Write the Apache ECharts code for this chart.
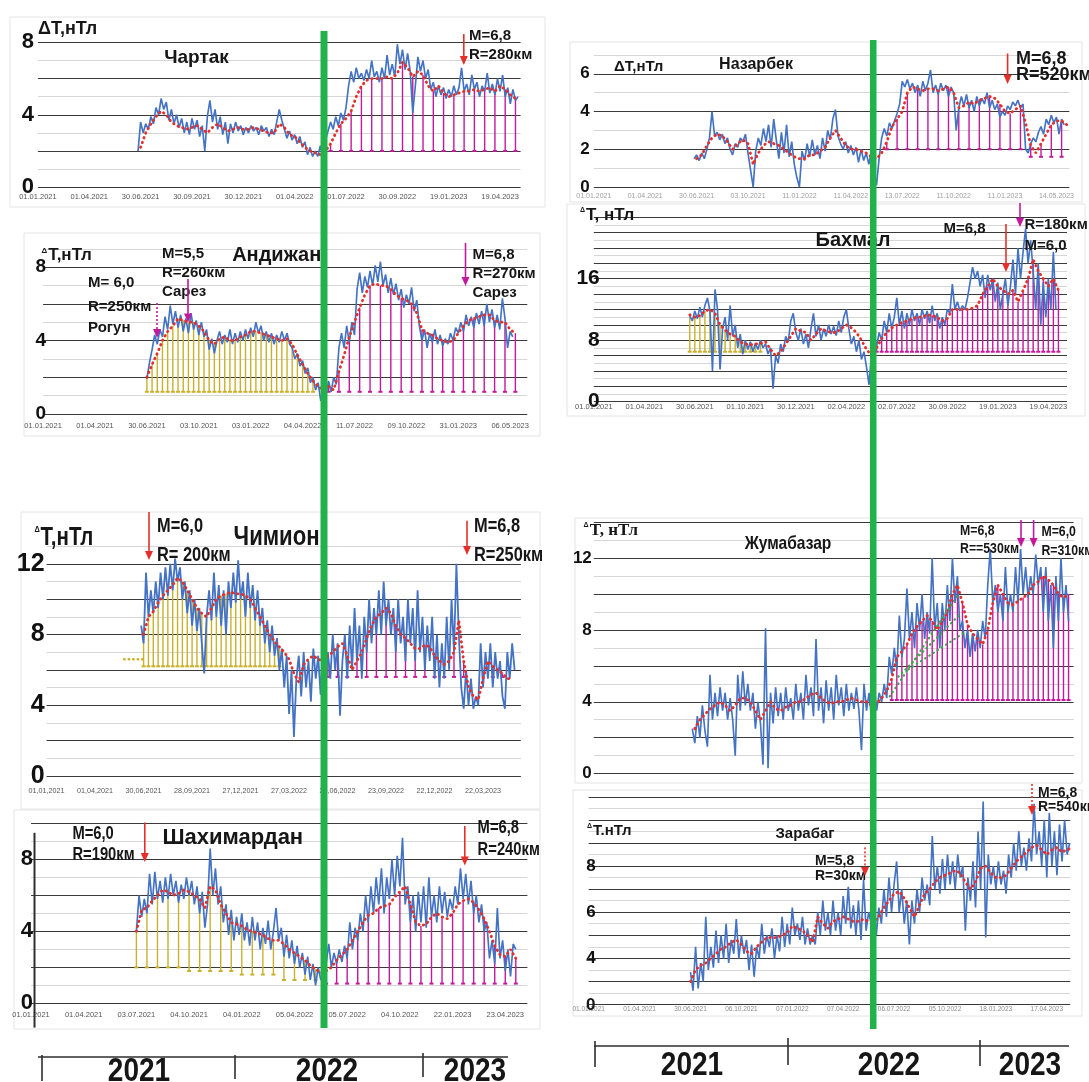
<!DOCTYPE html>
<html>
<head>
<meta charset="utf-8">
<script src="https://cdn.jsdelivr.net/npm/echarts@6/dist/echarts.min.js"></script>
<style>
html,body{margin:0;padding:0;background:#fff;}
#chart{width:1089px;height:1082px;}
</style>
</head>
<body>
<div id="chart"></div>
<script>
// ---------- station data: ΔT, nT (x unit = one date-label step) ----------
const chartakTicks = ['01.01.2021','01.04.2021','30.06.2021','30.09.2021','30.12.2021','01.04.2022','01.07.2022','30.09.2022','19.01.2023','19.04.2023'];
const chartakYLabels = [0, 4, 8];
const chartakBlue = [2.0,3.6,3.0,3.5,3.2,3.9,3.5,4.4,4.0,4.9,
4.3,4.7,3.7,4.3,3.5,4.0,3.3,3.8,3.0,3.6,
2.9,3.8,3.2,3.7,2.8,3.4,2.0,3.9,4.8,3.6,
4.3,3.2,3.9,2.9,3.6,2.4,3.5,3.0,3.6,3.1,
3.4,2.9,3.3,3.0,3.4,3.1,3.3,2.9,3.4,3.1,
3.3,2.8,3.2,2.9,3.6,4.3,3.7,3.2,2.7,3.1,
2.6,2.9,2.4,2.8,2.2,2.5,1.8,2.2,1.7,2.0,
1.7,2.3,1.6,2.6,3.1,3.6,3.2,3.9,3.4,4.1,
3.7,4.4,5.6,6.4,5.8,6.6,6.0,6.3,5.9,6.5,
6.0,7.0,6.1,6.4,5.8,6.6,6.0,7.3,6.2,6.8,
6.1,7.9,6.8,7.6,6.5,7.4,6.4,4.1,5.6,7.2,
6.4,7.0,6.0,6.5,5.4,5.8,5.0,5.6,5.1,5.5,
4.9,5.4,5.0,5.6,5.1,5.5,6.6,5.3,5.7,5.1,
6.2,5.4,5.8,5.0,5.6,5.3,6.3,5.2,5.7,5.1,
6.0,5.3,6.2,5.0,5.5,4.6,5.4,4.8,5.0];
const chartakRed = [2.2,3.0,3.5,3.9,4.2,4.0,3.6,3.4,3.3,3.2,
3.3,3.4,3.2,3.0,3.3,3.5,3.3,3.1,3.2,3.3,
3.2,3.2,3.3,3.2,3.1,3.0,3.0,3.5,3.3,2.9,
2.8,2.5,2.2,2.0,1.9,1.8,2.0,2.4,3.0,3.5,
3.8,4.2,5.0,5.6,5.9,6.0,6.0,6.0,6.1,6.0,
6.3,6.9,6.6,6.1,6.4,6.2,5.6,5.3,5.6,5.2,
5.0,5.1,5.2,5.3,5.3,5.4,5.3,5.4,5.5,5.3,
5.6,5.4,5.1,4.9];

const nazarbekTicks = ['01.01.2021','01.04.2021','30.06.2021','03.10.2021','11.01.2022','11.04.2022','13.07.2022','11.10.2022','11.01.2023','14.05.2023'];
const nazarbekYLabels = [0, 2, 4, 6];
const nazarbekBlue = [1.5,1.7,1.4,1.8,1.5,2.0,2.6,4.0,2.7,2.9,
2.5,2.8,2.3,2.6,2.0,1.7,2.3,2.1,2.6,2.4,
2.8,1.8,0.9,0.0,1.9,2.6,2.2,3.1,2.4,3.3,
2.1,3.6,2.5,1.5,2.9,1.8,3.3,1.6,2.4,1.2,
0.5,0.0,1.9,1.4,2.3,1.6,2.5,1.7,2.2,1.5,
2.6,1.9,3.0,2.5,3.6,4.1,2.7,2.3,2.0,2.4,
1.8,2.2,1.7,2.1,1.3,2.0,1.4,1.8,1.2,1.9,
0.8,0.1,1.5,2.6,3.1,2.7,3.4,3.1,3.5,3.9,
4.4,5.6,5.3,5.7,5.2,5.5,5.0,5.4,4.8,5.6,
5.1,5.5,6.2,5.0,5.4,4.9,5.5,5.1,5.4,4.8,
5.3,5.0,3.0,4.2,4.8,4.3,4.9,4.2,4.6,4.0,
4.8,4.3,4.7,4.4,5.0,4.2,4.6,4.1,4.4,3.7,
4.0,3.8,4.3,4.1,4.5,4.3,4.6,4.2,4.4,2.0,
1.8,2.3,2.6,2.4,2.9,3.2,2.8,3.6,3.3,3.8,
3.4,3.7,2.8,3.6,3.3];
const nazarbekRed = [1.5,1.7,2.2,2.6,2.8,2.7,2.4,2.0,2.3,2.5,
2.3,1.2,1.8,2.2,2.4,2.3,2.2,2.0,1.8,1.6,
1.5,1.5,1.7,1.7,1.9,2.1,2.6,3.0,2.6,2.2,
2.0,2.0,1.9,1.8,1.6,1.5,1.8,2.4,3.2,3.6,
4.0,5.0,5.3,5.2,5.1,5.2,5.2,5.1,5.2,5.3,
5.0,4.2,4.3,4.5,4.4,4.6,4.7,4.8,4.7,4.4,
4.0,3.9,4.1,4.3,3.4,2.2,1.8,2.3,2.8,3.3,
3.5,3.5,3.3];

const andijanTicks = ['01.01.2021','01.04.2021','30.06.2021','03.10.2021','03.01.2022','04.04.2022','11.07.2022','09.10.2022','31.01.2023','06.05.2023'];
const andijanYLabels = [0, 4, 8];
const andijanBlue = [1.9,2.8,3.5,4.3,3.8,4.6,4.2,5.3,4.6,5.9,
4.9,5.6,4.7,5.4,4.5,5.2,4.4,5.5,4.6,5.1,
4.3,5.0,4.2,4.6,3.5,4.1,3.3,4.0,4.5,3.8,
4.3,3.9,4.6,3.8,4.4,3.9,4.5,4.0,4.6,4.1,
4.7,4.2,5.0,4.4,4.8,4.0,4.5,3.9,4.4,3.8,
4.3,3.9,4.5,4.0,4.4,3.8,3.6,3.0,3.3,2.6,
2.9,2.2,2.5,1.7,2.0,1.3,1.7,0.7,1.4,1.0,
1.8,1.2,2.0,1.6,3.6,4.4,3.6,4.8,3.9,5.0,
4.3,6.8,7.7,6.6,7.5,6.9,7.8,7.0,8.1,7.2,
8.3,7.0,7.6,6.6,7.4,6.5,7.1,6.2,6.8,5.8,
6.5,6.0,6.9,5.6,6.2,4.8,4.0,4.6,3.6,4.4,
3.9,4.6,3.8,4.3,3.7,4.1,3.8,4.4,4.0,4.7,
4.4,5.0,4.5,5.4,4.8,5.3,4.7,5.5,4.9,5.6,
4.8,6.0,5.0,5.7,4.7,5.4,4.6,6.3,5.2,3.6,
4.5,4.2];
const andijanRed = [2.0,2.7,3.3,4.0,4.5,4.8,5.2,5.1,5.0,5.0,
4.8,4.5,4.0,3.8,4.1,4.2,4.0,4.0,4.2,4.3,
4.5,4.5,4.4,4.3,4.2,4.1,4.0,4.1,3.8,3.2,
2.7,2.2,1.8,1.5,1.3,1.5,1.3,2.3,3.2,4.2,
5.0,5.8,6.5,7.0,7.1,7.0,7.0,6.8,6.5,6.3,
6.2,6.0,5.5,4.6,4.4,4.3,4.1,4.0,3.9,4.0,
4.4,4.8,5.1,5.2,5.3,5.4,5.4,5.1,5.0,5.0,
4.6,4.4];

const bakhmalTicks = ['01.01.2021','01.04.2021','30.06.2021','01.10.2021','30.12.2021','02.04.2022','02.07.2022','30.09.2022','19.01.2023','19.04.2023'];
const bakhmalYLabels = [0, 8, 16];
const bakhmalBlue = [11.2,10.5,11.8,10.8,12.3,11.0,12.5,13.5,11.8,4.0,
14.6,12.0,4.2,9.5,11.0,8.0,12.5,8.5,10.0,7.0,
8.8,6.2,8.0,6.8,7.8,6.5,7.6,6.8,8.0,7.0,
7.5,6.2,7.0,1.7,6.0,5.0,7.5,6.5,8.5,7.8,
10.5,11.5,9.0,8.0,9.5,7.5,8.8,7.0,9.5,11.5,
8.5,10.0,8.0,9.5,8.5,10.0,8.8,9.8,8.6,10.5,
9.0,11.0,12.0,9.5,7.5,8.5,6.5,8.0,5.5,6.5,
4.5,2.2,6.5,8.5,7.2,9.0,8.0,10.5,9.0,11.5,
9.5,11.0,13.5,10.0,11.8,9.5,11.5,10.0,12.0,10.5,
11.5,10.0,12.0,10.8,11.8,10.2,12.5,10.5,11.5,9.5,
11.0,10.0,12.0,11.5,15.3,12.0,13.0,11.8,12.5,12.0,
13.5,15.5,17.5,16.0,17.0,15.0,16.5,13.5,16.5,14.5,
16.0,13.0,15.5,12.0,14.0,16.0,12.5,15.0,18.5,14.0,
20.0,16.0,19.5,22.5,18.0,21.0,17.0,12.0,18.0,10.0,
15.5,11.0,16.0,12.0,19.5,12.0];
const bakhmalRed = [11.3,11.0,11.2,11.8,12.0,11.5,10.0,9.3,8.8,8.5,
7.8,7.5,7.4,7.5,7.6,7.8,6.8,6.0,6.5,7.5,
8.5,9.5,9.2,9.0,8.0,8.8,9.5,9.2,9.0,9.0,
9.5,10.0,9.6,9.0,8.0,6.8,6.0,7.0,8.2,9.0,
9.6,10.0,10.3,10.5,10.8,11.0,11.0,11.3,11.2,11.0,
10.5,10.8,12.0,12.0,12.0,12.0,12.2,12.5,14.0,15.0,
16.0,15.0,14.5,14.0,14.5,13.0,14.5,16.0,18.5,17.0,
16.0,15.0,16.0,14.5];

const chimionTicks = ['01,01,2021','01,04,2021','30,06,2021','28,09,2021','27,12,2021','27,03,2022','26,06,2022','23,09,2022','22,12,2022','22,03,2023'];
const chimionYLabels = [0, 4, 8, 12];
const chimionBlue = [8.5,7.5,11.5,9.0,10.5,9.2,11.0,9.5,11.5,10.0,
11.8,10.2,12.0,10.5,12.3,11.0,11.8,10.0,11.0,9.2,
10.5,8.5,10.0,8.2,9.5,7.5,5.8,9.0,10.5,8.8,
11.5,9.0,10.8,8.5,10.5,8.0,11.0,9.5,11.5,9.8,
12.2,10.0,11.0,9.0,11.5,9.5,10.8,8.8,10.5,8.5,
9.5,7.5,8.8,7.0,8.5,6.8,7.8,6.0,7.2,5.0,
6.8,3.5,6.0,2.2,5.5,6.8,4.5,7.0,5.0,6.5,
4.2,7.2,5.5,6.8,4.6,7.5,5.8,7.0,5.5,8.0,
6.0,7.5,3.4,6.5,8.0,5.5,8.5,6.0,9.5,6.5,
8.5,5.5,9.0,7.0,10.0,7.5,9.5,8.0,10.5,8.0,
11.0,8.5,10.0,8.0,9.5,7.0,10.0,7.5,9.0,6.5,
10.0,7.5,9.5,6.5,10.5,7.0,9.0,6.0,8.5,6.5,
9.0,5.5,8.0,5.0,7.5,5.5,9.0,6.0,10.0,7.0,
12.0,8.0,5.0,3.8,6.0,4.0,5.5,3.8,4.5,4.0,
7.5,5.0,7.0,5.5,7.5,5.0,7.0,5.5,6.5,4.5,
3.8,7.0,5.5,7.5,6.0];
const chimionRed = [8.0,9.0,9.3,9.8,10.2,10.5,10.8,11.2,11.0,10.5,
10.0,9.5,9.2,9.0,9.5,10.0,10.2,10.3,10.4,10.3,
10.3,10.2,10.0,9.5,9.0,8.5,8.0,7.6,7.3,7.0,
6.6,5.8,5.3,6.3,6.6,6.8,6.6,6.5,6.8,7.0,
7.3,7.5,6.8,6.0,6.5,7.0,7.8,8.5,9.0,9.2,
9.5,9.2,8.5,8.0,7.8,7.5,7.2,7.2,7.4,7.3,
6.8,6.5,6.3,6.5,7.0,8.8,6.5,5.0,4.5,4.3,
5.5,6.5,6.2,6.0,5.8,5.5,5.5];
const chimionLead = [[1.6, 6.6], [2.0, 6.6]];

const jumaYLabels = [0, 4, 8, 12];
const jumaBlue = [2.5,1.7,3.2,2.0,3.8,2.4,1.5,5.5,3.0,4.5,
3.2,4.8,3.5,4.5,3.0,4.2,3.0,1.0,5.5,3.5,
5.7,3.8,5.0,3.5,4.5,2.5,4.0,2.8,0.5,8.1,
0.3,4.5,2.8,4.8,3.2,4.5,3.0,4.8,3.5,4.2,
3.0,5.0,3.5,4.5,3.0,5.5,3.8,4.8,3.2,7.5,
3.5,4.8,2.8,5.2,3.5,4.8,3.0,5.5,3.8,4.8,
3.2,5.0,3.5,4.5,3.6,4.8,3.5,1.3,5.0,3.5,
4.5,3.0,5.0,3.5,4.5,4.0,5.0,4.2,6.5,5.5,
7.0,5.8,8.8,6.5,7.5,10.3,7.5,9.0,7.0,9.5,
8.0,10.0,7.5,9.0,7.8,12.0,8.0,9.5,7.0,9.5,
8.0,10.5,8.5,12.0,9.5,11.0,8.0,8.5,7.0,8.0,
6.5,7.8,6.8,8.0,7.0,8.5,7.5,10.5,12.5,9.5,
10.5,9.0,10.0,8.5,11.5,9.0,10.0,9.0,11.5,9.5,
12.5,10.0,11.5,9.8,11.0,10.0,12.2,10.5,11.5,9.0,
11.5,8.5,10.5,7.0,11.0,8.5,12.0,9.0,10.5,8.5];
const jumaRed = [2.5,3.0,3.3,3.6,3.8,4.0,3.8,3.5,3.8,4.2,
4.2,4.0,3.5,3.0,3.5,4.0,3.6,3.5,3.7,3.8,
4.0,4.0,4.2,4.4,4.5,4.2,4.0,3.9,4.0,4.0,
4.1,4.2,4.1,4.0,4.0,3.8,3.9,4.2,4.6,5.3,
6.5,6.8,7.2,7.8,8.2,8.5,8.8,8.5,8.0,8.5,
9.0,10.0,10.5,9.5,8.3,7.8,7.5,7.2,8.0,9.5,
10.5,10.0,9.5,9.4,9.6,9.8,10.0,10.5,10.7,11.0,
10.8,10.5,10.0,9.8,10.0];
const jumaTrendA = [[5.86, 4.3], [7.2, 9.9]];
const jumaTrendB = [[6.03, 5.4], [7.26, 8.9]];
const jumaTrendC = [[6.23, 5.8], [7.36, 7.9]];

const shakhTicks = ['01.01.2021','01.04.2021','03.07.2021','04.10.2021','04.01.2022','05.04.2022','05.07.2022','04.10.2022','22.01.2023','23.04.2023'];
const shakhYLabels = [0, 4, 8];
const shakhBlue = [4.0,6.0,4.8,5.8,5.0,7.2,5.5,7.3,5.8,6.8,
5.6,7.0,5.8,7.2,6.0,6.8,5.6,6.6,5.8,7.0,
6.0,6.8,5.5,6.5,5.0,6.2,4.2,5.5,8.6,6.0,
7.5,5.5,6.5,4.5,5.5,3.8,5.2,3.5,4.8,3.8,
5.0,3.5,4.5,3.2,4.8,3.5,4.5,3.0,4.2,3.3,
4.6,3.0,4.0,5.3,3.5,4.2,2.6,3.8,2.5,3.5,
2.2,3.2,2.0,2.8,1.6,2.6,1.3,2.2,1.0,2.0,
1.3,1.8,2.2,3.3,2.0,2.8,2.2,3.0,2.3,3.2,
2.5,4.5,3.0,4.2,3.5,5.0,4.0,6.0,4.5,6.5,
5.0,7.0,5.5,7.5,5.0,7.0,5.8,8.0,6.0,8.2,
6.5,9.2,5.5,6.5,4.5,6.0,4.0,6.2,4.5,6.5,
4.2,7.0,4.8,6.0,4.5,6.5,5.0,6.2,4.8,5.8,
5.2,6.5,5.5,7.5,5.8,7.2,5.5,6.8,5.0,6.0,
4.5,5.5,4.0,4.5,2.5,3.5,2.2,5.3,2.5,3.5,
1.8,3.0,1.5,3.3,3.0];
const shakhRed = [4.0,5.2,5.3,5.7,6.0,6.3,6.2,6.0,6.1,6.3,
6.2,6.0,5.8,5.3,6.5,6.3,5.5,5.0,4.5,4.4,
4.3,4.1,4.0,3.9,3.8,3.6,3.5,3.5,3.3,3.0,
2.8,2.6,2.4,2.1,1.9,1.7,1.8,2.0,2.4,2.7,
3.0,3.5,4.0,4.5,4.9,5.0,5.3,5.4,5.5,5.9,
6.2,6.5,5.5,4.5,4.3,4.4,4.8,5.0,4.8,4.7,
5.0,5.5,5.7,5.8,5.6,5.2,4.7,4.0,3.2,2.7,
2.6,3.0,2.5];

const zarTicks = ['01.01.2021','01.04.2021','30.06.2021','06.10.2021','07.01.2022','07.04.2022','06.07.2022','05.10.2022','18.01.2023','17.04.2023'];
const zarYLabels = [4, 6, 8];
const zarBlue = [3.4,2.6,4.5,2.7,3.8,3.0,5.8,3.5,4.5,3.6,
5.2,3.8,5.0,4.0,5.5,3.8,4.8,4.2,5.7,4.0,
5.0,4.2,4.8,3.5,4.6,3.2,4.5,4.0,5.5,4.2,
5.0,4.5,5.3,4.0,5.0,4.3,5.8,4.5,5.5,4.6,
6.2,5.0,5.5,4.8,5.8,4.6,5.3,4.6,5.0,4.6,
6.0,5.0,6.5,5.2,6.0,5.0,6.5,5.2,6.0,5.0,
6.7,5.5,7.1,5.3,6.3,5.0,6.5,4.8,7.4,5.2,
6.0,5.5,6.5,5.0,6.2,5.5,7.0,5.8,7.5,6.0,
7.2,8.2,6.0,7.0,5.5,6.5,4.6,6.5,5.5,7.0,
6.0,7.5,6.5,7.2,6.3,9.3,7.0,8.0,6.8,8.3,
7.0,8.5,7.2,8.2,7.0,8.5,7.5,8.0,5.2,7.5,
6.5,8.2,6.2,9.5,7.0,10.8,4.9,8.5,7.2,8.0,
7.0,8.2,7.2,7.8,6.8,8.5,7.5,9.0,7.8,9.5,
8.0,8.8,7.8,9.2,8.2,10.7,8.5,9.5,8.0,10.0,
7.5,10.3,8.0,9.5,7.6,9.8,8.2,10.0,8.5,9.0];
const zarRed = [3.0,3.5,3.7,3.8,4.0,4.2,4.4,4.5,4.7,4.8,
4.6,4.3,4.2,4.5,4.7,4.9,4.9,4.9,5.0,5.1,
5.4,5.3,5.2,5.0,4.7,5.8,5.5,5.3,5.6,5.7,
5.8,5.7,5.6,5.6,5.7,5.6,5.6,5.8,6.2,6.5,
6.8,6.9,6.6,6.2,5.8,6.3,6.8,7.0,7.3,7.5,
7.6,7.7,7.8,7.7,7.3,7.0,7.3,7.9,8.0,7.7,
7.5,7.5,7.6,7.9,8.2,8.4,8.6,8.8,8.9,8.7,
8.5,8.7,8.8,8.6,8.7,8.8];

const yearLabels = ['2021', '2022', '2023'];

// ---------- styling ----------
const BLUE = '#4472c4', RED = '#e5302a', MAG = '#c4199c', YEL = '#c9b12c', GREEN = '#22b24c';
const SANS = '"Liberation Sans", Arial, sans-serif';
const SERIF = '"Liberation Serif", "DejaVu Serif", serif';
const NARROW_SCALE = 0.82;   // horizontal squeeze standing in for a condensed face
const BLUE_STEP = 0.05, RED_STEP = 0.1;

const panels = [
  { blue: chartakBlue, blueStart: 1.95, red: chartakRed, redStart: 2.0, ticks: chartakTicks, yLabels: chartakYLabels,
    grid: { left: 37.9, top: 42.4, width: 482.7, height: 144.8 }, xMax: 9.4, yMin: 0, yMax: 8, yStep: 1,
    yLab: { size: 22, margin: 4 }, xLab: { size: 7.5, margin: 6, color: '#555' },
    stems: [{ from: 5.7, to: 9.3, every: 2, base: 2, color: MAG }] },
  { blue: nazarbekBlue, blueStart: 1.95, red: nazarbekRed, redStart: 2.0, ticks: nazarbekTicks, yLabels: nazarbekYLabels,
    grid: { left: 593.8, top: 54.9, width: 475.5, height: 132.1 }, xMax: 9.25, yMin: 0, yMax: 7, yStep: 1,
    yLab: { size: 17, margin: 4 }, xLab: { size: 7, margin: 6, color: '#a0a0a0' },
    stems: [{ from: 5.7, to: 8.3, every: 2, base: 2.0, color: MAG }, { from: 8.5, to: 9.1, every: 2, base: 1.6, color: MAG }] },
  { blue: andijanBlue, blueStart: 2.0, red: andijanRed, redStart: 2.0, ticks: andijanTicks, yLabels: andijanYLabels,
    grid: { left: 43.1, top: 248.9, width: 484.2, height: 164.9 }, xMax: 9.33, yMin: 0, yMax: 9, yStep: 1,
    yLab: { size: 19, margin: -3 }, xLab: { size: 7.5, margin: 8, color: '#555' },
    stems: [{ from: 2.0, to: 5.2, every: 1, base: 1.2, color: YEL }, { from: 5.5, to: 9.1, every: 2, base: 1.2, color: MAG }] },
  { blue: bakhmalBlue, blueStart: 1.9, red: bakhmalRed, redStart: 1.9, ticks: bakhmalTicks, yLabels: bakhmalYLabels,
    grid: { left: 593.8, top: 217.2, width: 473.2, height: 184.5 }, xMax: 9.37, yMin: 0, yMax: 24, yStep: 1,
    yLab: { size: 21, margin: -6 }, xLab: { size: 7.5, margin: 1, color: '#555' },
    stems: [{ from: 1.9, to: 3.3, every: 1, base: 6.5, color: YEL }, { from: 5.6, to: 9.2, every: 1, base: 6.5, color: MAG }] },
  { blue: chimionBlue, blueStart: 1.95, red: chimionRed, redStart: 2.0, ticks: chimionTicks, yLabels: chimionYLabels,
    grid: { left: 46.6, top: 546.1, width: 474.3, height: 229.8 }, xMax: 9.78, yMin: 0, yMax: 13, yStep: 1,
    yLab: { size: 25, margin: 2 }, xLab: { size: 7.2, margin: 12, color: '#555' },
    stems: [{ from: 2.0, to: 4.8, every: 1, base: 6.2, color: YEL }, { from: 5.8, to: 9.6, every: 2, base: 5.6, color: MAG }],
    blueWidth: 1.8 },
  { blue: jumaBlue, blueStart: 1.95, red: jumaRed, redStart: 2.0, ticks: null, yLabels: jumaYLabels,
    grid: { left: 593.8, top: 522.2, width: 479.8, height: 251.4 }, xMax: 9.5, yMin: 0, yMax: 14, yStep: 1,
    yLab: { size: 17, margin: 2 }, xLab: { size: 7.5, margin: 6, color: '#555' },
    stems: [{ from: 5.9, to: 9.4, every: 1, base: 4.1, color: MAG }] },
  { blue: shakhBlue, blueStart: 2.0, red: shakhRed, redStart: 2.0, ticks: shakhTicks, yLabels: shakhYLabels,
    grid: { left: 31, top: 823.3, width: 496.4, height: 180.1 }, xMax: 9.42, yMin: 0, yMax: 10, yStep: 1,
    yLab: { size: 22, margin: -2 }, xLab: { size: 7.5, margin: 8, color: '#555' },
    stems: [{ from: 2.0, to: 2.8, every: 2, base: 2.0, color: YEL }, { from: 3.0, to: 3.8, every: 2, base: 1.8, color: YEL },
            { from: 4.0, to: 4.6, every: 2, base: 1.6, color: YEL }, { from: 4.8, to: 5.4, every: 2, base: 1.3, color: YEL },
            { from: 5.6, to: 9.2, every: 2, base: 1.1, color: MAG }] },
  { blue: zarBlue, blueStart: 2.0, red: zarRed, redStart: 2.0, ticks: zarTicks, yLabels: zarYLabels,
    grid: { left: 588.7, top: 796.8, width: 481.5, height: 207.7 }, xMax: 9.46, yMin: 2, yMax: 11, yStep: 0.5,
    yLab: { size: 17, margin: -7 }, xLab: { size: 6.5, margin: 1, color: '#8a8a8a' },
    stems: [] }
];

// ---------- helpers ----------
function toPoints(start, step, vals) {
  return vals.map((v, i) => [Math.round((start + i * step) * 1000) / 1000, v]);
}
function buildStems(p, seg) {
  const out = [];
  p.red.forEach((v, i) => {
    const x = Math.round((p.redStart + i * RED_STEP) * 100) / 100;
    if (x < seg.from - 1e-6 || x > seg.to + 1e-6) return;
    if (Math.round((x - seg.from) / RED_STEP) % seg.every !== 0) return;
    if (v <= seg.base) return;
    out.push([x, seg.base, v]);
  });
  return out;
}
function stemRenderer(color) {
  return function (params, api) {
    const b = api.coord([api.value(0), api.value(1)]);
    const t = api.coord([api.value(0), api.value(2)]);
    return {
      type: 'group',
      children: [
        { type: 'line', shape: { x1: b[0], y1: b[1], x2: t[0], y2: t[1] }, style: { stroke: color, lineWidth: 1.4 } },
        { type: 'line', shape: { x1: b[0] - 2, y1: b[1], x2: b[0] + 2, y2: b[1] }, style: { stroke: color, lineWidth: 2 } }
      ]
    };
  };
}
function txt(x, y, text, size, opt, squeeze) {
  const el = {
    type: 'text', x: x, y: y, z: 100, silent: true,
    style: Object.assign({ text: text, fill: '#161616', fontSize: size, fontWeight: 'bold', fontFamily: SANS,
                           align: 'left', verticalAlign: 'middle' }, opt || {})
  };
  if (squeeze) { el.scaleX = squeeze; }
  return el;
}
function narrow(x, y, text, size, opt) { return txt(x, y, text, size, opt, NARROW_SCALE); }
function deltaTxt(x, y, rest, size, family, deltaSize, squeeze) {
  return txt(x, y, '{d|Δ}' + rest, size, {
    fontFamily: family,
    rich: { d: { fontSize: deltaSize, fontWeight: 'bold', fontFamily: SANS, fill: '#161616', verticalAlign: 'top', padding: [0, 1, 6, 0] } }
  }, squeeze);
}
function arrow(x, yTop, yTip, color, dotted) {
  return [
    { type: 'line', z: 100, silent: true, shape: { x1: x, y1: yTop, x2: x, y2: yTip - 8 },
      style: { stroke: color, lineWidth: 1.6, lineDash: dotted ? [2, 2] : null } },
    { type: 'polygon', z: 100, silent: true, shape: { points: [[x - 4, yTip - 9], [x + 4, yTip - 9], [x, yTip]] },
      style: { fill: color } }
  ];
}
function hline(x1, x2, y, w) {
  return { type: 'line', z: 90, silent: true, shape: { x1: x1, y1: y, x2: x2, y2: y }, style: { stroke: '#2e2e2e', lineWidth: w || 1.6 } };
}
function vline(x, y1, y2, w) {
  return { type: 'line', z: 90, silent: true, shape: { x1: x, y1: y1, x2: x, y2: y2 }, style: { stroke: '#2e2e2e', lineWidth: w || 1.6 } };
}
function box(x, y, w, h) {
  return { type: 'rect', z: 0, silent: true, shape: { x: x, y: y, width: w, height: h }, style: { fill: 'none', stroke: '#e4e4e4', lineWidth: 1 } };
}

// ---------- option ----------
const grids = [], xAxes = [], yAxes = [], series = [];
panels.forEach((p, i) => {
  grids.push(Object.assign({ containLabel: false, outerBoundsMode: 'none' }, p.grid));
  xAxes.push({
    type: 'value', gridIndex: i, min: 0, max: p.xMax, interval: 1,
    axisLine: { show: false }, axisTick: { show: false }, splitLine: { show: false },
    axisLabel: {
      show: !!p.ticks, showMaxLabel: false, fontSize: p.xLab.size, color: p.xLab.color,
      fontFamily: SANS, margin: p.xLab.margin,
      formatter: v => (p.ticks && Number.isInteger(v) && p.ticks[v]) ? p.ticks[v] : ''
    }
  });
  yAxes.push({
    type: 'value', gridIndex: i, min: p.yMin, max: p.yMax, interval: p.yStep,
    axisLine: { show: false }, axisTick: { show: false },
    splitLine: { show: true, lineStyle: { color: ['#3a3a3a', '#d6d6d6'], width: 1.2 } },
    axisLabel: {
      fontSize: p.yLab.size, fontWeight: 'bold', fontFamily: SANS, color: '#111', margin: p.yLab.margin,
      formatter: v => p.yLabels.indexOf(v) >= 0 ? String(v) : ''
    }
  });
  p.stems.forEach(seg => {
    series.push({
      type: 'custom', xAxisIndex: i, yAxisIndex: i, z: 1, silent: true,
      dimensions: ['x', 'base', 'top'], encode: { x: 0, y: [1, 2] },
      data: buildStems(p, seg), renderItem: stemRenderer(seg.color)
    });
  });
  series.push({
    type: 'line', xAxisIndex: i, yAxisIndex: i, z: 2, silent: true, symbol: 'none',
    data: toPoints(p.blueStart, BLUE_STEP, p.blue),
    lineStyle: { color: BLUE, width: p.blueWidth || 1.65 }
  });
  series.push({
    type: 'line', xAxisIndex: i, yAxisIndex: i, z: 3, silent: true, symbol: 'none',
    data: toPoints(p.redStart, RED_STEP, p.red),
    lineStyle: { color: RED, width: 2.8, type: [0.5, 4.5], cap: 'round' }
  });
});
// dotted lead-in on the Чимион panel and the trend guides on Жумабазар
series.push({ type: 'line', xAxisIndex: 4, yAxisIndex: 4, z: 3, symbol: 'none', silent: true, data: chimionLead,
  lineStyle: { color: YEL, width: 2.4, type: [0.5, 4], cap: 'round' } });
[jumaTrendA, jumaTrendB, jumaTrendC].forEach(d => series.push({
  type: 'line', xAxisIndex: 5, yAxisIndex: 5, z: 3, symbol: 'none', silent: true, data: d,
  lineStyle: { color: '#3aa54a', width: 2.2, type: [0.5, 4.5], cap: 'round' } }));

const G = [];
// panel frames
G.push(box(10, 17, 535, 190), box(570, 42, 512, 160), box(24, 233, 516, 203), box(567, 204, 518, 212),
       box(21, 512, 519, 297), box(575, 518, 507, 265), box(14, 810, 526, 219), box(573, 790, 509, 226));

// Чартак
G.push(txt(38, 28.6, 'ΔT,нТл', 18));
G.push(txt(196.5, 58, 'Чартак', 19, { align: 'center' }));
G.push(txt(469, 35.5, 'M=6,8', 15), txt(469, 54.5, 'R=280км', 15));
G.push(...arrow(463.8, 34, 65, RED));

// Назарбек
G.push(txt(614, 67, 'ΔT,нТл', 15));
G.push(txt(756, 65, 'Назарбек', 16, { align: 'center' }));
G.push(txt(1016, 58.6, 'M=6,8', 18), txt(1016, 75, 'R=520км', 18));
G.push(...arrow(1007.6, 53.5, 84, RED));

// Андижан
G.push(deltaTxt(41.4, 255, 'T,нТл', 17, SANS, 8));
G.push(txt(276.7, 255, 'Андижан', 20, { align: 'center' }));
G.push(txt(162, 253.4, 'M=5,5', 15), txt(162, 272.4, 'R=260км', 15), txt(162, 291.4, 'Сарез', 15));
G.push(txt(88, 282.8, 'M= 6,0', 15), txt(88, 307, 'R=250км', 15), txt(88, 327.6, 'Рогун', 15));
G.push(...arrow(188, 279, 322.4, MAG), ...arrow(157, 303, 338, MAG, true));
G.push(txt(472.4, 255, 'M=6,8', 15), txt(472.4, 274, 'R=270км', 15), txt(472.4, 293, 'Сарез', 15));
G.push(...arrow(465.5, 243, 286, MAG));

// Бахмал
G.push(deltaTxt(580, 215, 'T, нТл', 17, SANS, 7));
G.push(txt(853, 240.5, 'Бахмал', 20, { align: 'center' }));
G.push(txt(943.5, 228.7, 'M=6,8', 15), txt(1024.5, 225, 'R=180км', 15), txt(1024.5, 245.6, 'M=6,0', 15));
G.push(...arrow(1006, 224, 272, RED), ...arrow(1020, 203, 227, MAG));

// Чимион
G.push(deltaTxt(34.5, 538, 'T,нТл', 25, SANS, 9, NARROW_SCALE));
G.push(narrow(276.6, 538, 'Чимион', 27, { align: 'center' }));
G.push(narrow(157, 526, 'M=6,0', 20), narrow(157, 555, 'R= 200км', 20));
G.push(...arrow(149, 512, 560, RED));
G.push(narrow(474, 526, 'M=6,8', 20), narrow(474, 555, 'R=250км', 20));
G.push(...arrow(467, 520.7, 555, RED));

// Жумабазар
G.push(deltaTxt(583.6, 530.4, 'T, нТл', 17, SERIF, 7));
G.push(narrow(788, 544, 'Жумабазар', 19, { align: 'center' }));
G.push(narrow(960, 530.4, 'M=6,8', 15), narrow(960, 549, 'R==530км', 15));
G.push(narrow(1041.4, 532, 'M=6,0', 15), narrow(1041.4, 550.7, 'R=310км', 15));
G.push(...arrow(1021, 520, 547, MAG), ...arrow(1033.6, 520, 547, MAG));

// Шахимардан
G.push(txt(232.8, 838, 'Шахимардан', 22, { align: 'center' }));
G.push(narrow(72.4, 834.5, 'M=6,0', 18), narrow(72.4, 855, 'R=190км', 18));
G.push(...arrow(144.8, 822.4, 862, RED));
G.push(narrow(477.6, 827.6, 'M=6,8', 18), narrow(477.6, 850, 'R=240км', 18));
G.push(...arrow(464.8, 826, 865.5, RED));
G.push(vline(34.5, 832.8, 1027.6, 2));

// Зарабаг
G.push(deltaTxt(587, 830.5, 'T.нТл', 15, SANS, 7));
G.push(txt(805, 834, 'Зарабаг', 15, { align: 'center' }));
G.push(txt(815, 861, 'M=5,8', 14), txt(815, 876, 'R=30км', 14));
G.push(...arrow(865, 847.4, 876, RED, true));
G.push(txt(1038, 793.4, 'M=6,8', 14), txt(1038, 807, 'R=540км', 14));
G.push(...arrow(1032, 784, 815, RED, true));
G.push(txt(595.5, 1005, '0', 17, { align: 'right' }));

// year scales under both columns
G.push(hline(38, 508, 1057), vline(42, 1055, 1081), vline(235, 1055, 1079), vline(423, 1053, 1077));
G.push(txt(139, 1072, yearLabels[0], 33, { align: 'center' }, 0.85),
       txt(327, 1072, yearLabels[1], 33, { align: 'center' }, 0.85),
       txt(475, 1072, yearLabels[2], 33, { align: 'center' }, 0.85));
G.push(hline(594, 1069, 1046), vline(595, 1041, 1067), vline(788, 1038, 1065), vline(980, 1040, 1066));
G.push(txt(692, 1066, yearLabels[0], 33, { align: 'center' }, 0.85),
       txt(889, 1066, yearLabels[1], 33, { align: 'center' }, 0.85),
       txt(1030, 1066, yearLabels[2], 33, { align: 'center' }, 0.85));

// vertical green marker through both columns
G.push({ type: 'rect', z: 120, silent: true, shape: { x: 320.5, y: 31, width: 7, height: 997 }, style: { fill: GREEN } });
G.push({ type: 'rect', z: 120, silent: true, shape: { x: 870, y: 40, width: 6.5, height: 989 }, style: { fill: GREEN } });

const chart = echarts.init(document.getElementById('chart'), null, { renderer: 'canvas' });
chart.setOption({
  backgroundColor: '#ffffff',
  animation: false,
  grid: grids,
  xAxis: xAxes,
  yAxis: yAxes,
  series: series,
  graphic: { elements: G }
});
</script>
</body>
</html>
